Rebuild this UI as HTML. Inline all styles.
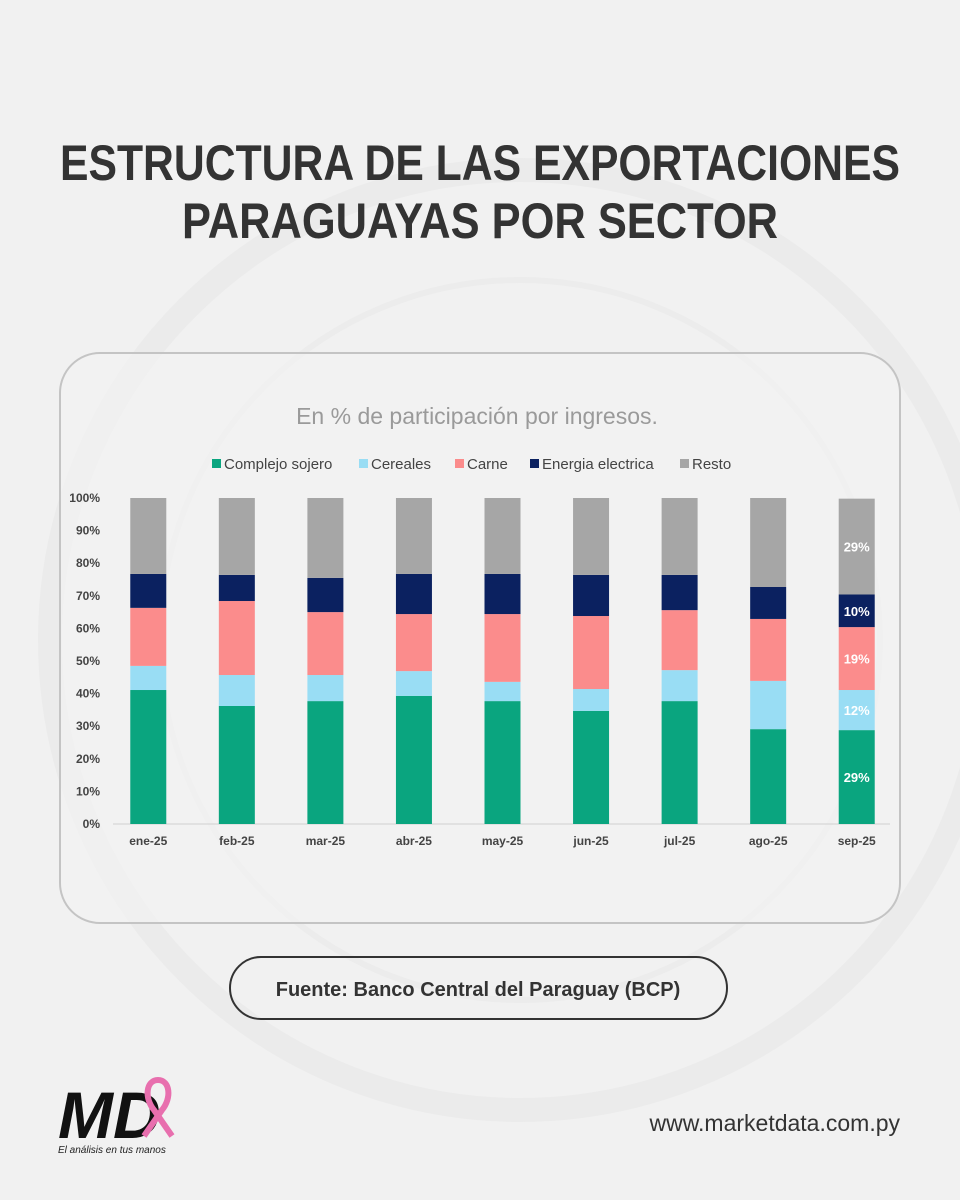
<!DOCTYPE html>
<html><head><meta charset="utf-8"><style>
html,body{margin:0;padding:0;background:#f1f1f1;}
svg{display:block;font-family:"Liberation Sans",sans-serif;}
</style></head><body>
<svg id="chart" width="960" height="1200" viewBox="0 0 960 1200" xmlns="http://www.w3.org/2000/svg">
<rect width="960" height="1200" fill="#f1f1f1"/>
<circle cx="520" cy="640" r="470" fill="none" stroke="#ebebeb" stroke-width="24"/>
<circle cx="520" cy="640" r="360" fill="none" stroke="#ececec" stroke-width="6"/>
<text x="480" y="180" text-anchor="middle" font-size="50" font-weight="bold" fill="#333" textLength="840" lengthAdjust="spacingAndGlyphs">ESTRUCTURA DE LAS EXPORTACIONES</text>
<text x="480" y="238" text-anchor="middle" font-size="50" font-weight="bold" fill="#333" textLength="596" lengthAdjust="spacingAndGlyphs">PARAGUAYAS POR SECTOR</text>
<rect x="60" y="353" width="840" height="570" rx="40" fill="#f3f3f3" fill-opacity="0.6" stroke="#c4c4c4" stroke-width="2"/>
<text x="477" y="424" text-anchor="middle" font-size="23" fill="#9a9a9a">En % de participación por ingresos.</text>
<g id="legend"></g>
<g id="axis"></g>
<g id="bars"></g>
<rect x="230" y="957" width="497" height="62" rx="31" fill="none" stroke="#333" stroke-width="2"/>
<text x="478" y="996" text-anchor="middle" font-size="20" font-weight="bold" fill="#333">Fuente: Banco Central del Paraguay (BCP)</text>
<g>
<text x="58" y="1138" font-size="66" font-weight="bold" font-style="italic" fill="#111">MD</text>
<path d="M158 1080 c-12 0 -14 18 -4 30 l18 26 M158 1080 c12 0 14 18 4 30 l-18 26" stroke="#e86fae" stroke-width="6" fill="none"/>
<text x="58" y="1153" font-size="10" font-style="italic" fill="#222">El análisis en tus manos</text>
</g>
<text x="900" y="1131" text-anchor="end" font-size="23" fill="#333">www.marketdata.com.py</text>
</svg>
<script>
const months=["ene-25","feb-25","mar-25","abr-25","may-25","jun-25","jul-25","ago-25","sep-25"];
const series=["Complejo sojero","Cereales","Carne","Energia electrica","Resto"];
const colors=["#0aa57f","#99ddf4","#fb8c8c","#0b2160","#a6a6a6"];
const soja=[41.1,36.2,37.7,39.3,37.7,34.7,37.7,29.1,28.8];
const cereales=[7.4,9.5,8.0,7.6,5.9,6.7,9.5,14.8,12.3];
const carne=[17.8,22.7,19.3,17.5,20.8,22.4,18.4,19.0,19.3];
const energia=[10.4,8.0,10.5,12.3,12.3,12.6,10.8,9.8,10.0];
const resto=[23.3,23.6,24.5,23.3,23.3,23.6,23.6,27.3,29.4];
const yTicks=[0,10,20,30,40,50,60,70,80,90,100];
const ns="http://www.w3.org/2000/svg";
const y0=824,y1=498,xL=103,xR=900;
const y=v=>y0-(y0-y1)*v/100;
const band=(xR-xL)/months.length;
const xc=i=>xL+band*(i+0.5)+1;
function mk(t,a,p){const e=document.createElementNS(ns,t);for(const k in a)e.setAttribute(k,a[k]);p.appendChild(e);return e;}
const ax=document.getElementById('axis');
yTicks.forEach(t=>{const e=mk('text',{x:100,y:y(t)+4,'text-anchor':'end','font-size':12,'font-weight':'bold',fill:'#444'},ax);


e.textContent=t+'%';});
mk('line',{x1:xL+10,x2:xR-10,y1:y0,y2:y0,stroke:'#d0d0d0'},ax);
const bars=document.getElementById('bars');
const data=[soja,cereales,carne,energia,resto];
months.forEach((m,i)=>{let acc=0;
data.forEach((s,j)=>{const v=s[i];const r=mk('rect',{x:xc(i)-18,width:36,y:y(acc+v),height:y(acc)-y(acc+v),fill:colors[j]},bars);


if(i===months.length-1){const t=mk('text',{x:xc(i),y:(y(acc)+y(acc+v))/2+5,'text-anchor':'middle','font-size':13,'font-weight':'bold',fill:'#fff'},bars);


t.textContent=Math.round(v)+'%';}
acc+=v;});
const l=mk('text',{x:xc(i),y:845,'text-anchor':'middle','font-size':12,'font-weight':'bold',fill:'#444'},bars);


l.textContent=m;});
const lg=document.getElementById('legend');
const lx=[212,359,455,530,680];
series.forEach((s,j)=>{const sq=mk('rect',{x:lx[j],y:459,width:9,height:9,fill:colors[j]},lg);


const t=mk('text',{x:lx[j]+12,y:469,'font-size':15,fill:'#444'},lg);


t.textContent=s;});
</script>
</body></html>
